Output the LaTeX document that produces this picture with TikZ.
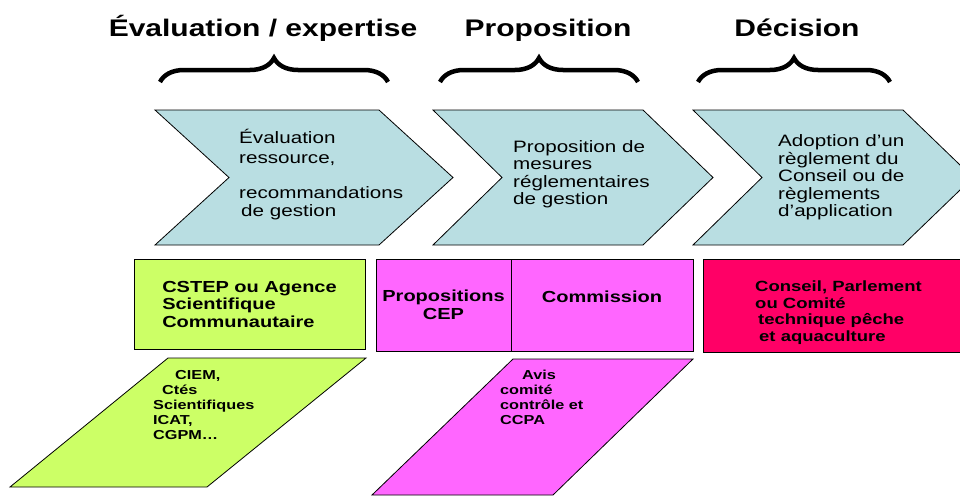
\documentclass[tikz,border=0pt]{standalone}
\usepackage{fontspec}
\setmainfont[FakeStretch=1.25]{Liberation Sans}
\usetikzlibrary{decorations.pathreplacing}

\definecolor{stageblue}{RGB}{185,222,226}
\definecolor{sciegreen}{RGB}{204,255,102}
\definecolor{propmagenta}{RGB}{255,102,255}
\definecolor{decisionred}{RGB}{255,0,102}

\begin{document}
\begin{tikzpicture}
        [
            x = 1pt, y = -1pt,
            phase/.style = {anchor=base, inner sep=0pt,
                font=\fontsize{24}{28}\selectfont\bfseries},
            curly/.style = {decorate, decoration={brace, amplitude=24pt},
                line width=4.5pt},
            chevron/.style = {draw, fill=stageblue, line width=0.8pt},
            stagetext/.style = {anchor=base west, inner sep=0pt, align=left,
                font=\fontsize{16.5}{17.5}\selectfont},
            actor/.style = {draw, line width=0.8pt, inner sep=0pt,
                align=left, font=\fontsize{16}{17.5}\selectfont\bfseries},
            actortext/.style = {anchor=base west, inner sep=0pt, align=left,
                font=\fontsize{14.8}{16.7}\selectfont\bfseries},
            advice/.style = {draw, line width=0.8pt},
            advicetext/.style = {anchor=base west, inner sep=0pt, align=left,
                font=\fontsize{13}{15}\selectfont\bfseries}
        ]
        \useasboundingbox (0,0) rectangle (960,495);
        \clip (0,0) rectangle (960,495);

        \node [phase] (evaltitle) at (263,37) {Évaluation / expertise};
        \node [phase] (proptitle) at (548,37) {Proposition};
        \node [phase] (dectitle) at (797,37) {Décision};

        \draw [curly] (160,82) -- (388,82);
        \draw [curly] (440,82) -- (638,82);
        \draw [curly] (698,82) -- (890,82);

        \draw [chevron] (155,110) -- (379,110) -- (453,177.5) -- (379,245)
            -- (155,245) -- (229,177.5) -- cycle;
        \draw [chevron] (433,110) -- (643,110) -- (713,177.5) -- (643,245)
            -- (433,245) -- (502,177.5) -- cycle;
        \draw [chevron] (693,110) -- (903,110) -- (973,177.5) -- (903,245)
            -- (693,245) -- (762,177.5) -- cycle;

        % base west sits on the last line of each text
        \node [stagetext] (evaltext) at (239,216)
            {Évaluation\\[2.5pt] ressource,\\ \\ recommandations\\ \hspace{2pt}de gestion};
        \node [stagetext] (proptext) at (513,204.5)
            {Proposition de\\ mesures\\ réglementaires\\ de gestion};
        \node [stagetext] (dectext) at (778,216.5)
            {Adoption d’un\\ règlement du\\ Conseil ou de\\ règlements\\ d’application};

        \node [actor, fill=sciegreen, minimum width=231pt, minimum height=90pt]
            (cstep) at (249.5,304) {CSTEP ou Agence\\ Scientifique\\ Communautaire};
        \node [actor, fill=propmagenta, align=center, minimum width=135pt,
            minimum height=92pt] (cep) at (443.5,305) {Propositions\\ CEP};
        \node [actor, fill=propmagenta, minimum width=182pt, minimum height=92pt]
            (commission) at (602,305) {};
        \node [actor, draw=none] (commtext) at ([yshift=8pt]commission.center) {Commission};
        \node [actor, fill=decisionred, minimum width=267pt, minimum height=93pt]
            (conseil) at (836.5,305.5) {};
        \node [actortext] (conseiltext) at (755,341.5)
            {Conseil, Parlement\\ ou Comité\\ \hspace{3pt}technique pêche\\ \hspace{4pt}et aquaculture};

        \draw [advice, fill=sciegreen] (168,358) -- (366,358) -- (207,487) -- (10,487) -- cycle;
        \draw [advice, fill=propmagenta] (513,359) -- (693,359) -- (553,495) -- (372,495) -- cycle;

        \node [advicetext] (ciem) at (153,439)
            {\hspace{22pt}CIEM,\\ \hspace{9pt}Ctés\\ Scientifiques\\ ICAT,\\ CGPM…};
        \node [advicetext] (avis) at (500,424.5)
            {\hspace{22pt}Avis\\ comité\\ contrôle et\\ CCPA};
    \end{tikzpicture}
\end{document}
